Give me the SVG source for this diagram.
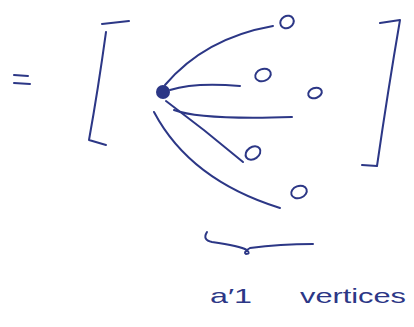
<svg xmlns="http://www.w3.org/2000/svg" width="414" height="327" viewBox="0 0 414 327">
<style>
.ink{fill:none;stroke:#2c3786;stroke-width:2;stroke-linecap:round;stroke-linejoin:round}
.v{fill:none;stroke:#2c3786;stroke-width:2}
.lbl{font-family:"Liberation Sans",sans-serif;font-size:21px;fill:#2c3786}
</style>
<rect width="414" height="327" fill="#ffffff"/>
<g id="equals">
<path class="ink" d="M14,75 L28,76 M14,83 L30,84"/>
</g>
<g id="left-bracket">
<path class="ink" d="M102,24 L129,21 M106,32 Q98,90 89,140 L106,145"/>
</g>
<g id="right-bracket">
<path class="ink" d="M380,23 L400,20 Q388,90 377,166 L362,165"/>
</g>
<g id="connectors">
<path class="ink" d="M165,85 Q205,38 273,26"/>
<path class="ink" d="M170,90 Q195,82 240,86"/>
<path class="ink" d="M174,110 Q200,120 292,117"/>
<path class="ink" d="M166,101 Q205,130 243,162" stroke-width="2.5"/>
<path class="ink" d="M154,112 Q190,180 280,208"/>
</g>
<g id="center"><circle cx="163" cy="92" r="7" fill="#2c3786"/></g>
<g id="v1"><ellipse class="v" cx="287" cy="22" rx="7" ry="6" transform="rotate(-30 287 22)"/></g>
<g id="v2"><ellipse class="v" cx="263" cy="75" rx="8" ry="6" transform="rotate(-20 263 75)"/></g>
<g id="v3"><ellipse class="v" cx="315" cy="93" rx="7" ry="5" transform="rotate(-20 315 93)"/></g>
<g id="v4"><ellipse class="v" cx="253" cy="153" rx="8" ry="6" transform="rotate(-35 253 153)"/></g>
<g id="v5"><ellipse class="v" cx="299" cy="192" rx="8" ry="6" transform="rotate(-20 299 192)"/></g>
<g id="brace">
<path class="ink" d="M207,232 Q202,240 212,242 Q240,246 247,250 Q251,254 246,254 Q243,252 250,248 Q280,244 313,244"/>
</g>
<g id="label">
<text class="lbl" x="210" y="303" textLength="42" lengthAdjust="spacingAndGlyphs">a′1</text>
<text class="lbl" x="300" y="303" textLength="106" lengthAdjust="spacingAndGlyphs">vertices</text>
</g>
</svg>
